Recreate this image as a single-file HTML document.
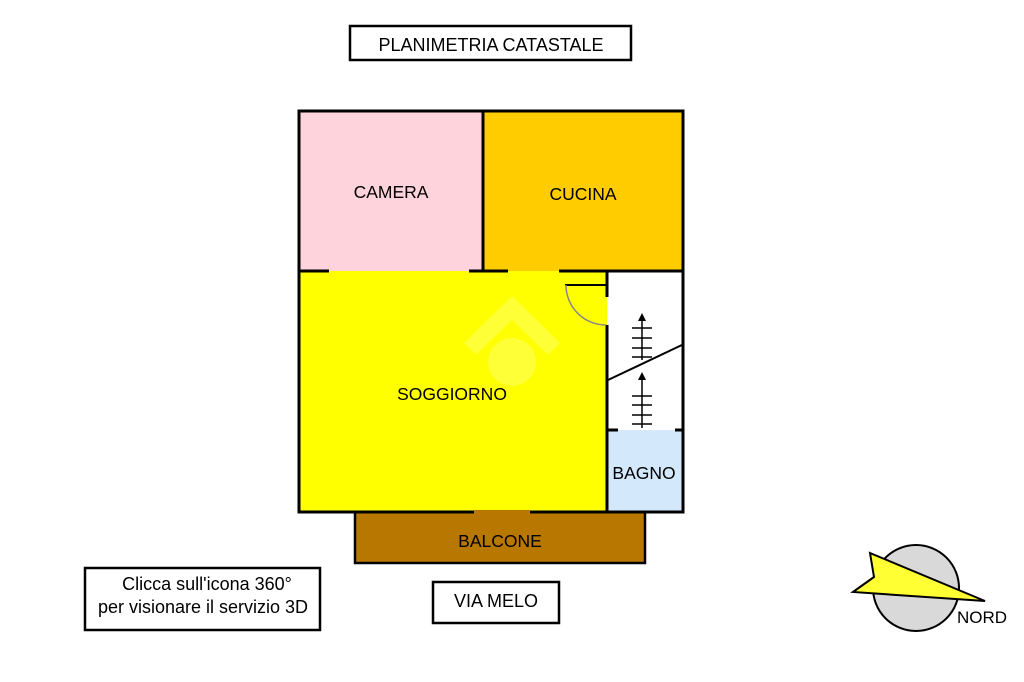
<!DOCTYPE html>
<html><head><meta charset="utf-8"><style>
html,body{margin:0;padding:0;background:#fff;width:1024px;height:682px;overflow:hidden}
svg text{font-family:"Liberation Sans",Arial,sans-serif;fill:#000}
</style></head><body>
<svg width="1024" height="682" viewBox="0 0 1024 682" xmlns="http://www.w3.org/2000/svg">
<rect x="0" y="0" width="1024" height="682" fill="#fff"/>
<rect x="350" y="26" width="281" height="34" fill="#fff" stroke="#000" stroke-width="2.5"/>
<text x="491" y="51" font-size="18" text-anchor="middle">PLANIMETRIA CATASTALE</text>
<rect x="299" y="111" width="184" height="160" fill="#ffd3dc"/>
<rect x="483" y="111" width="200" height="160" fill="#ffcc00"/>
<rect x="299" y="271" width="308" height="241" fill="#ffff00"/>
<rect x="607" y="271" width="77" height="159" fill="#fff"/>
<rect x="607" y="430" width="77" height="82" fill="#d4e8fb"/>
<rect x="355" y="512" width="290" height="51" fill="#b87800" stroke="#000" stroke-width="2.5"/>
<g opacity="0.22" fill="#fff">
<polygon points="512,296 560,343 548,355 512,320 476,355 464,343"/>
<circle cx="512" cy="362" r="24"/>
</g>
<rect x="299" y="111" width="384" height="401" fill="none" stroke="#000" stroke-width="3"/>
<line x1="483" y1="111" x2="483" y2="271" stroke="#000" stroke-width="3"/>
<g stroke="#000" stroke-width="3">
<line x1="299" y1="271" x2="329" y2="271"/>
<line x1="469" y1="271" x2="508" y2="271"/>
<line x1="559" y1="271" x2="684" y2="271"/>
<line x1="607" y1="271" x2="607" y2="297"/>
<line x1="607" y1="325" x2="607" y2="512"/>
<line x1="607" y1="430" x2="618" y2="430"/>
<line x1="675" y1="430" x2="684" y2="430"/>
</g>
<line x1="565" y1="285" x2="606" y2="285" stroke="#000" stroke-width="2"/>
<path d="M566 285 A40 40 0 0 0 606 325" fill="none" stroke="#888" stroke-width="1.5"/>
<rect x="474" y="510" width="56" height="4" fill="#b87800"/>
<line x1="608" y1="380" x2="684" y2="344" stroke="#000" stroke-width="2"/>
<g stroke="#000" stroke-width="1.5">
<line x1="642" y1="360" x2="642" y2="318"/>
<line x1="632" y1="328" x2="652" y2="328"/><line x1="632" y1="338" x2="652" y2="338"/><line x1="632" y1="348" x2="652" y2="348"/><line x1="632" y1="357" x2="652" y2="357"/>
<line x1="642" y1="428" x2="642" y2="377"/>
<line x1="632" y1="396" x2="652" y2="396"/><line x1="632" y1="405" x2="652" y2="405"/><line x1="632" y1="415" x2="652" y2="415"/><line x1="632" y1="424" x2="652" y2="424"/>
</g>
<polygon points="642,313 638,321 646,321" fill="#000"/>
<polygon points="642,372 638,380 646,380" fill="#000"/>
<text x="391" y="198" font-size="17.5" text-anchor="middle">CAMERA</text>
<text x="583" y="200" font-size="17.5" text-anchor="middle">CUCINA</text>
<text x="452" y="400" font-size="17.5" text-anchor="middle">SOGGIORNO</text>
<text x="644" y="479" font-size="17.5" text-anchor="middle">BAGNO</text>
<text x="500" y="547" font-size="17.5" text-anchor="middle">BALCONE</text>
<rect x="85" y="568" width="235" height="62" fill="#fff" stroke="#000" stroke-width="2.5"/>
<text x="207" y="590" font-size="18" text-anchor="middle">Clicca sull'icona 360°</text>
<text x="203" y="613" font-size="18" text-anchor="middle">per visionare il servizio 3D</text>
<rect x="433" y="582" width="126" height="41" fill="#fff" stroke="#000" stroke-width="2.5"/>
<text x="496" y="607" font-size="18" text-anchor="middle">VIA MELO</text>
<circle cx="916" cy="588" r="43" fill="#d9d9d9" stroke="#000" stroke-width="2"/>
<polygon points="870,553 985,601 853,592 874,577" fill="#ffff33" stroke="#000" stroke-width="2"/>
<text x="982" y="623" font-size="17" text-anchor="middle">NORD</text>
</svg>
</body></html>
